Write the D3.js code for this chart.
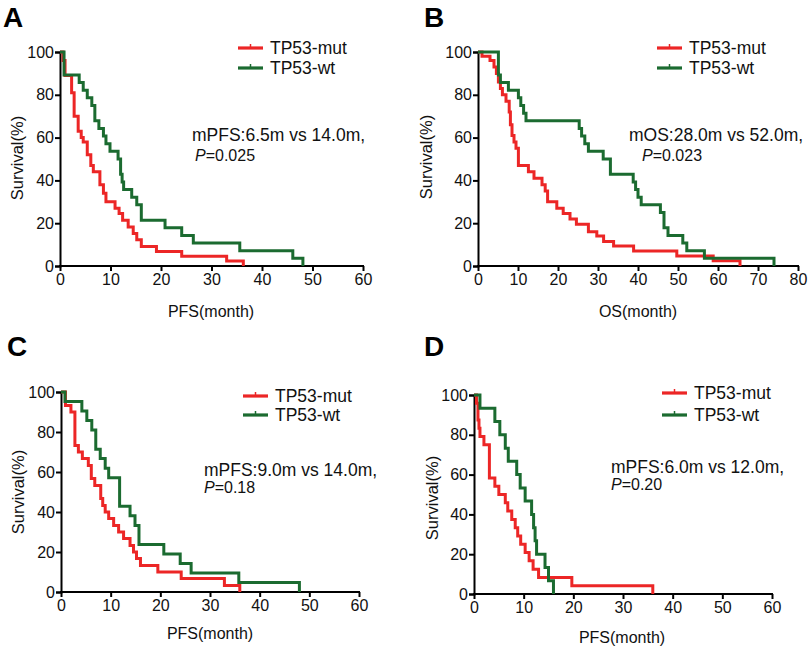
<!DOCTYPE html>
<html>
<head>
<meta charset="utf-8">
<script src="https://cdn.jsdelivr.net/npm/d3@7"></script>
<style>
  body { margin: 0; background: #fff; }
  svg { font-family: "Liberation Sans", Arial, sans-serif; }
</style>
</head>
<body>
<div id="chart"></div>
<script>
// step points [month, survival %]
const aMut = [[0,100],[0.6,96],[1,89],[2.3,81],[2.8,70],[3.6,63],[4.2,60],[4.6,58],[5.4,52],[6.1,47],[6.6,44],[7.9,38],[8.6,34],[9.1,30],[10.9,27],[11.7,24.5],[12.4,21.4],[13.5,18.2],[14.5,15.2],[15.2,12.3],[16.1,9.1],[19.1,6.8],[24.1,4.5],[33,2.3],[36.3,0]];
const aWt  = [[0,100],[0.8,89.3],[3.8,85.7],[4.6,82.1],[5.4,78.6],[6.3,75],[6.9,67.9],[7.7,64.3],[8.6,60.7],[9.1,57.1],[9.9,53.6],[11.5,50],[12,42.9],[12.3,39.3],[12.6,35.7],[14.2,32.1],[15.2,28.6],[16.1,21.4],[20.8,17.9],[24.1,14.3],[26.4,10.7],[35.6,7.1],[46.1,3.6],[48.1,0]];

const bMut = [[0,100],[1,98],[3,96],[4,93],[4.6,90],[5.1,86],[5.6,83],[6.1,80],[7,77],[7.8,72],[8.1,66],[8.5,61],[9,58],[9.5,55],[10.1,47],[12.6,44],[14,41],[16,38],[16.8,35],[17.4,30],[19.7,27],[21.3,24.5],[23,22],[24.6,19.5],[27.6,16],[29.7,14],[31.4,11.4],[33.9,9.3],[38.9,7],[49.7,4.7],[58.8,2.5],[65.5,0]];
const bWt  = [[0,100],[5.1,89.3],[5.6,85.7],[7.6,82.1],[10.1,78.6],[10.7,75],[11.4,71.4],[12,67.9],[25.3,64.3],[25.9,60.7],[26.7,57.1],[27.6,53.6],[31.3,50],[33.1,42.9],[38.8,39.3],[39.4,35.7],[40,32.1],[40.8,28.6],[45.6,25],[46.5,17.9],[47.5,14.3],[51.2,10.7],[52.2,7.1],[56.6,3.6],[74,0]];

const cMut = [[0,100],[0.9,93.3],[2,90],[2.8,73.3],[3.5,70],[4.3,66.7],[5.5,63.3],[6.1,56.7],[6.8,53.3],[8,46.7],[8.4,43.3],[8.9,40],[9.6,36.7],[10.6,33.3],[11.6,30],[12.6,26.7],[13.9,23.3],[14.6,20],[15.2,16.7],[16,13.3],[19.5,10],[24.2,6.7],[32.9,3.3],[36,0]];
const cWt  = [[0,100],[0.8,95.2],[4.2,90.5],[5.2,85.7],[6.2,81],[7,71.4],[7.9,66.7],[8.9,61.9],[9.6,57.1],[11.8,42.9],[13.9,38.1],[14.9,33.3],[15.7,23.8],[20.7,19],[24,14.3],[26.2,9.5],[35.8,4.8],[48,0]];

const dMut = [[0,100],[0.5,95.8],[0.8,87.5],[1,83.3],[1.2,79.2],[2,75],[3.1,58.3],[4.2,54.2],[5,50],[6.3,45.8],[6.8,41.7],[7.6,37.5],[8.3,33.3],[8.8,29.2],[9.4,25],[10.3,20.8],[11.1,16.7],[11.9,12.5],[13,8.3],[19.7,4.2],[36,0]];
const dWt  = [[0,100],[1.2,93.3],[4.2,86.7],[5.2,80],[6.3,73.3],[6.9,66.7],[8.6,60],[9.3,53.3],[10.3,46.7],[11.6,40],[12,33.3],[12.3,26.7],[12.6,20],[14.3,13.3],[15,6.7],[16,0]];

const groups = ["TP53-mut", "TP53-wt"];
const yTicks = [0, 20, 40, 60, 80, 100];
const xTicks60 = [0, 10, 20, 30, 40, 50, 60];
const xTicks80 = [0, 10, 20, 30, 40, 50, 60, 70, 80];

const colors = { "TP53-mut": "#ec2626", "TP53-wt": "#1b6b30" };

const svg = d3.select("#chart").append("svg")
  .attr("width", 810).attr("height", 648);

const panels = [
  { letter: "A", lx: 3, ly: 27, left: 60, right: 363, top: 52, bottom: 266, xTicks: xTicks60,
    series: [aMut, aWt], xTitle: "PFS(month)", xtx: 211, xty: 311, ytx: 17, yty: 158,
    legX: 238, legY: [48, 68], note: "mPFS:6.5m vs 14.0m,", p: "=0.025",
    nx: 192, ny: 135, px: 195, py: 155 },
  { letter: "B", lx: 424, ly: 27, left: 478, right: 798, top: 52, bottom: 266, xTicks: xTicks80,
    series: [bMut, bWt], xTitle: "OS(month)", xtx: 638, xty: 311, ytx: 426, yty: 157,
    legX: 657, legY: [48, 68], note: "mOS:28.0m vs 52.0m,", p: "=0.023",
    nx: 629, ny: 135, px: 642, py: 155 },
  { letter: "C", lx: 7, ly: 356, left: 61, right: 359, top: 392, bottom: 592, xTicks: xTicks60,
    series: [cMut, cWt], xTitle: "PFS(month)", xtx: 210, xty: 633, ytx: 18, yty: 492,
    legX: 243, legY: [396, 415], note: "mPFS:9.0m vs 14.0m,", p: "=0.18",
    nx: 204, ny: 470, px: 204, py: 487 },
  { letter: "D", lx: 424, ly: 356, left: 474, right: 772, top: 395, bottom: 594, xTicks: xTicks60,
    series: [dMut, dWt], xTitle: "PFS(month)", xtx: 622, xty: 637, ytx: 432, yty: 498,
    legX: 662, legY: [393, 415], note: "mPFS:6.0m vs 12.0m,", p: "=0.20",
    nx: 611, ny: 467, px: 611, py: 484 }
];

panels.forEach(drawPanel);

function drawPanel(o) {
  const g = svg.append("g");
  const xMax = o.xTicks[o.xTicks.length - 1];
  const x = d3.scaleLinear().domain([0, xMax]).range([o.left, o.right]);
  const y = d3.scaleLinear().domain([0, 100]).range([o.bottom, o.top]);

  // panel letter
  g.append("text").attr("x", o.lx).attr("y", o.ly)
    .style("font-size", "28px").style("font-weight", "bold").text(o.letter);

  // axes
  const xAxis = g.append("g").attr("transform", `translate(0,${o.bottom})`)
    .call(d3.axisBottom(x).tickValues(o.xTicks).tickSize(5).tickPadding(2).tickFormat(d3.format("d")));
  const yAxis = g.append("g").attr("transform", `translate(${o.left},0)`)
    .call(d3.axisLeft(y).tickValues(yTicks).tickSize(5).tickPadding(1).tickFormat(d3.format("d")));
  [xAxis, yAxis].forEach(a => {
    a.select(".domain").attr("stroke", "#000").attr("stroke-width", 2);
    a.selectAll(".tick line").attr("stroke", "#000").attr("stroke-width", 2);
    a.selectAll(".tick text").attr("fill", "#111").style("font-size", "16px").style("font-family", "inherit");
  });
  xAxis.select(".domain").attr("d", `M${o.left - 1},0H${o.right + 1}`);
  xAxis.selectAll(".tick text").attr("dy", "0.72em");

  // axis titles
  g.append("text").attr("x", o.xtx).attr("y", o.xty).attr("dy", "0.35em")
    .attr("text-anchor", "middle").style("font-size", "16px").attr("fill", "#111").text(o.xTitle);
  g.append("text").attr("transform", `translate(${o.ytx},${o.yty}) rotate(-90)`).attr("dy", "0.35em")
    .attr("text-anchor", "middle").style("font-size", "16.5px").attr("fill", "#111").text("Survival(%)");

  // survival curves
  const line = d3.line().curve(d3.curveStepAfter).x(d => x(d[0])).y(d => y(d[1]));
  o.series.forEach((s, i) => {
    g.append("path").datum(s)
      .attr("d", line)
      .attr("fill", "none")
      .attr("stroke", colors[groups[i]])
      .attr("stroke-width", 3)
      .attr("stroke-linejoin", "miter");
  });

  // legend
  groups.forEach((name, i) => {
    const ly = o.legY[i];
    g.append("line").attr("x1", o.legX).attr("x2", o.legX + 25).attr("y1", ly).attr("y2", ly)
      .attr("stroke", colors[name]).attr("stroke-width", 3.2);
    g.append("line").attr("x1", o.legX + 12.5).attr("x2", o.legX + 12.5).attr("y1", ly).attr("y2", ly - 4)
      .attr("stroke", colors[name]).attr("stroke-width", 1.5);
    g.append("text").attr("x", o.legX + 32).attr("y", ly).attr("dy", "0.36em")
      .style("font-size", "17.5px").attr("fill", "#111").text(name);
  });

  // annotation
  g.append("text").attr("x", o.nx).attr("y", o.ny).attr("dy", "0.36em")
    .style("font-size", "17.5px").attr("fill", "#111").text(o.note);
  const pt = g.append("text").attr("x", o.px).attr("y", o.py).attr("dy", "0.36em")
    .style("font-size", "16px").attr("fill", "#111");
  pt.append("tspan").style("font-style", "italic").text("P");
  pt.append("tspan").text(o.p);
}
</script>
</body>
</html>
